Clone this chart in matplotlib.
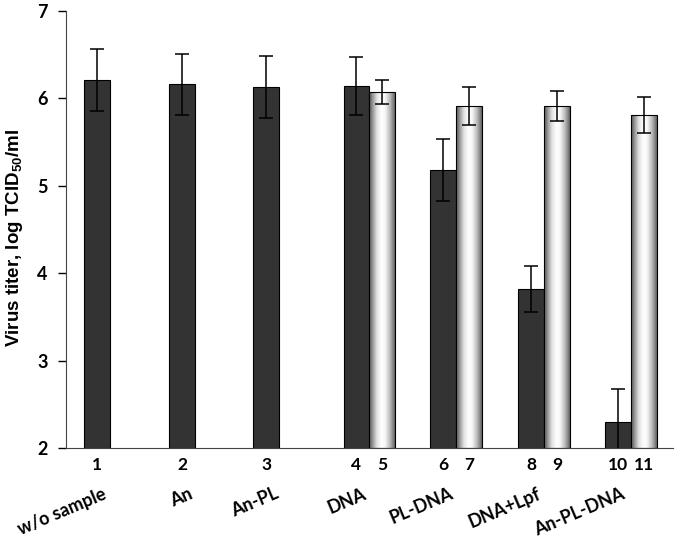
import matplotlib
matplotlib.use("Agg")
import matplotlib.pyplot as plt
import numpy as np
from matplotlib.colors import LinearSegmentedColormap

FONT = 'Lato'
plt.rcParams['font.family'] = [FONT, 'DejaVu Sans']
plt.rcParams['font.weight'] = 'bold'
plt.rcParams['mathtext.fontset'] = 'custom'
plt.rcParams['mathtext.rm'] = 'Liberation Sans:bold'
plt.rcParams['mathtext.bf'] = 'Liberation Sans:bold'

groups = ["w/o sample", "An", "An-PL", "DNA", "PL-DNA", "DNA+Lpf", "An-PL-DNA"]
dark_ids = ["1", "2", "3", "4", "6", "8", "10"]
dark_vals = [6.21, 6.16, 6.13, 6.14, 5.18, 3.82, 2.30]
dark_err = [0.35, 0.35, 0.35, 0.33, 0.35, 0.26, 0.38]
light_ids = ["5", "7", "9", "11"]
light_vals = [6.07, 5.91, 5.91, 5.81]
light_err = [0.14, 0.22, 0.17, 0.21]
yticks = [2, 3, 4, 5, 6, 7]

fig = plt.figure(figsize=(6.79, 5.43), dpi=100)
ax = fig.add_axes([0.097, 0.175, 0.894, 0.805])

w = 0.3
dark_x = np.array([0, 0.99, 1.97, 3.02, 4.03, 5.05, 6.06])
light_x = dark_x[3:] + w
base = 2

ax.bar(dark_x, np.array(dark_vals) - base, bottom=base, width=w, color='#333333',
       edgecolor='black', linewidth=0.8, zorder=2)
ax.errorbar(dark_x, dark_vals, yerr=dark_err, fmt='none', ecolor='black',
            elinewidth=1.1, capsize=5, capthick=1.1, zorder=4)

cmap = LinearSegmentedColormap.from_list('cyl', [
    (0.0, (0.32, 0.32, 0.32)), (0.12, (0.55, 0.55, 0.55)), (0.3, (0.88, 0.88, 0.88)),
    (0.48, (1, 1, 1)), (0.62, (0.97, 0.97, 0.97)), (0.82, (0.72, 0.72, 0.72)),
    (1.0, (0.38, 0.38, 0.38))])
grad = np.linspace(0, 1, 256).reshape(1, -1)
bars = ax.bar(light_x, np.array(light_vals) - base, bottom=base, width=w, facecolor='none',
              edgecolor='black', linewidth=0.8, zorder=3)
for b in bars:
    x0, y0 = b.get_x(), b.get_y()
    im = ax.imshow(grad, extent=[x0, x0 + b.get_width(), y0, y0 + b.get_height()],
                   cmap=cmap, aspect='auto', zorder=2, interpolation='bicubic')
    im.set_clip_path(b)
ax.errorbar(light_x, light_vals, yerr=light_err, fmt='none', ecolor='black',
            elinewidth=1.1, capsize=5, capthick=1.1, zorder=4)

ax.set_xlim(-0.36, 6.70)
ax.set_ylim(2, 7)
ax.set_yticks(yticks)
ax.set_yticklabels([str(t) for t in yticks], fontsize=13, fontweight='bold')
ax.tick_params(axis='y', direction='out', length=6, width=1, pad=7)
ax.set_xticks([])
for s in ['top', 'right']:
    ax.spines[s].set_visible(False)
ax.spines['left'].set_color('#444444')
ax.spines['bottom'].set_color('#444444')

ax.set_ylabel(r'Virus titer, log TCID$_{50}$/ml', fontsize=13.5, fontweight='bold',
              family=['Liberation Sans', 'DejaVu Sans'])
ax.yaxis.set_label_coords(-0.068, 0.48)

for x, s in zip(dark_x, dark_ids):
    ax.text(x, -0.02, s, transform=ax.get_xaxis_transform(), ha='center', va='top',
            fontsize=12.5, fontweight='bold')
for x, s in zip(light_x, light_ids):
    ax.text(x, -0.02, s, transform=ax.get_xaxis_transform(), ha='center', va='top',
            fontsize=12.5, fontweight='bold')

lab_off = [0.06, 0.07, 0.09, 0.07, 0.07, 0.07, 0.035]
for x, o, s in zip(dark_x, lab_off, groups):
    ax.text(x + o, -0.085, s, transform=ax.get_xaxis_transform(), ha='right', va='top',
            rotation=23, rotation_mode='anchor', fontsize=13, fontweight='bold')

fig.savefig('out.png', dpi=100)
